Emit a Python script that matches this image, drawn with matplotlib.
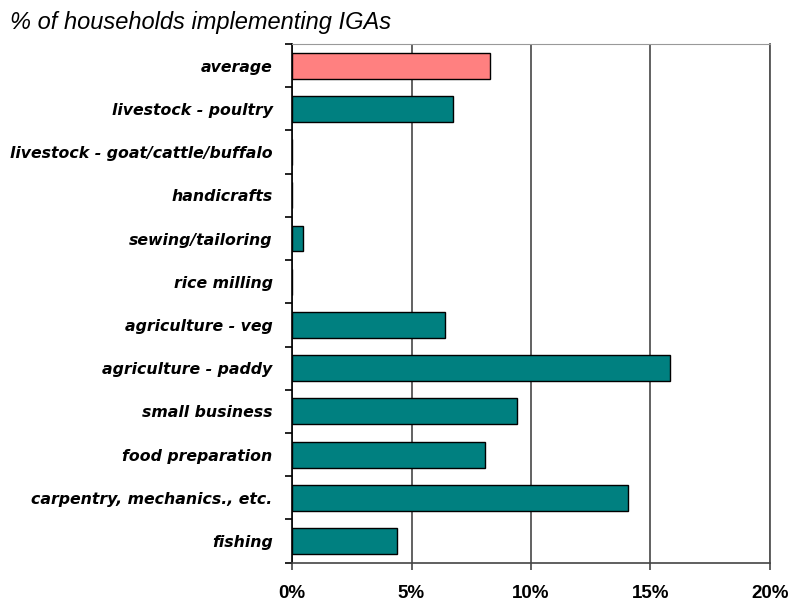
import matplotlib.pyplot as plt
from matplotlib.ticker import FixedLocator, PercentFormatter

categories = ['average', 'livestock - poultry', 'livestock - goat/cattle/buffalo',
              'handicrafts', 'sewing/tailoring', 'rice milling', 'agriculture - veg',
              'agriculture - paddy', 'small business', 'food preparation',
              'carpentry, mechanics., etc.', 'fishing']
values = [8.3, 6.75, 0, 0, 0.46, 0, 6.4, 15.83, 9.4, 8.07, 14.06, 4.4]
colors = ['#FF8080'] + ['#008080'] * (len(categories) - 1)

fig = plt.figure(figsize=(7.97, 6.05), dpi=100)
ax = fig.add_axes([0.3664, 0.0699, 0.5997, 0.8574])

pos = range(len(categories))
ax.barh(pos, values, height=0.6, color=colors, edgecolor='black', linewidth=1.0, zorder=3)

ax.set_xlim(0, 20)
ax.set_ylim(len(categories) - 0.5, -0.5)
ax.set_xticks([0, 5, 10, 15, 20])
ax.xaxis.set_major_formatter(PercentFormatter(decimals=0))
ax.grid(axis='x', color='#555555', linewidth=1.3, zorder=0)

ax.set_yticks(list(pos))
ax.set_yticklabels(categories, fontfamily='DejaVu Sans', fontweight='bold',
                   fontstyle='italic', fontsize=11.3)
ax.yaxis.set_minor_locator(FixedLocator([k + 0.5 for k in range(-1, len(categories))]))
ax.tick_params(axis='y', which='major', length=0, pad=14)
ax.tick_params(axis='y', which='minor', length=5, width=1.2, color='black')
ax.tick_params(axis='x', length=5, width=1.2, color='#444444', pad=11)
for lbl in ax.get_xticklabels():
    lbl.set_fontfamily('Liberation Sans')
    lbl.set_fontweight('bold')
    lbl.set_fontsize(13.5)

ax.spines['left'].set_color('black')
ax.spines['left'].set_linewidth(1.2)
ax.spines['bottom'].set_color('#444444')
ax.spines['bottom'].set_linewidth(1.2)
ax.spines['top'].set_color('#999999')
ax.spines['right'].set_color('#555555')
ax.spines['right'].set_linewidth(1.3)

fig.text(0.0125, 0.9636, '% of households implementing IGAs', fontfamily='Liberation Sans',
         fontstyle='italic', fontsize=17, va='center', ha='left')

fig.savefig('out.png', dpi=100)
